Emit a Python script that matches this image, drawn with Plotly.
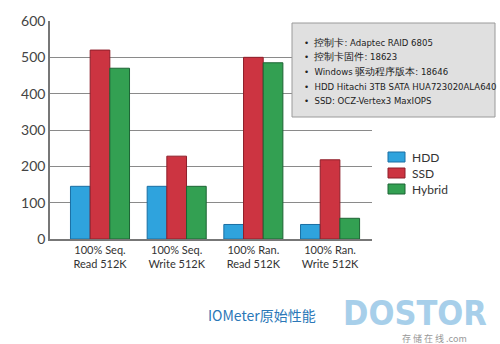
import plotly.graph_objects as go

categories = ["100% Seq.<br>Read 512K", "100% Seq.<br>Write 512K",
              "100% Ran.<br>Read 512K", "100% Ran.<br>Write 512K"]
series_names = ["HDD", "SSD", "Hybrid"]
hdd = [145, 145, 40, 40]
ssd = [520, 228, 500, 218]
hybrid = [470, 145, 485, 57]
y_ticks = [0, 100, 200, 300, 400, 500, 600]
info_lines = ["控制卡: Adaptec RAID 6805", "控制卡固件: 18623",
              "Windows 驱动程序版本: 18646", "HDD Hitachi 3TB SATA HUA723020ALA640",
              "SSD: OCZ-Vertex3 MaxIOPS"]
title_text = "IOMeter原始性能"

L, R, T, B = 50, 372, 21, 239  # plot area in pixels
W, H = R - L, B - T


def px(x):
    return (x - L) / W


def py(y):
    return (B - y) / H


colors = ["#2fa3dd", "#cc3441", "#33a052"]
edges = ["#1a6fa3", "#8e1f2a", "#1d6434"]

fig = go.Figure()
for name, vals, col, edge in zip(series_names, [hdd, ssd, hybrid], colors, edges):
    fig.add_trace(go.Bar(name=name, x=categories, y=vals, showlegend=False,
                         marker=dict(color=col, line=dict(color=edge, width=1))))

fig.update_layout(
    width=500, height=344, autosize=False,
    margin=dict(l=L, r=500 - R, t=T, b=344 - B),
    paper_bgcolor="white", plot_bgcolor="white",
    barmode="group", bargap=0.23, bargroupgap=0.0,
    font=dict(family="Lato, Open Sans, sans-serif", color="#333"),
    showlegend=False,
    xaxis=dict(range=[-0.652, 3.547], showline=True, linecolor="#777", linewidth=1.5,
               tickfont=dict(size=11, color="#333"), ticks=""),
    yaxis=dict(range=[0, 600], tickvals=y_ticks, showline=True, linecolor="#777",
               linewidth=1.5, showgrid=True, gridcolor="#8a8a8a", gridwidth=1.2,
               tickfont=dict(size=14, color="#444"), ticks="", zeroline=False),
)

# legend (drawn manually for exact spacing)
leg_y = [157, 173, 189]
for name, col, edge, yy in zip(series_names, colors, edges, leg_y):
    fig.add_shape(type="rect", xref="paper", yref="paper",
                  x0=px(388), x1=px(405), y0=py(yy + 5), y1=py(yy - 5),
                  fillcolor=col, line=dict(color=edge, width=1))
    fig.add_annotation(xref="paper", yref="paper", x=px(410), y=py(yy),
                       xanchor="left", yanchor="middle", text=name, showarrow=False,
                       font=dict(family="Lato, Open Sans, sans-serif", size=12,
                                 color="#333"))

# info box
fig.add_shape(type="rect", xref="paper", yref="paper",
              x0=px(292), x1=px(495), y0=py(117), y1=py(23),
              fillcolor="#e0e0e0", line=dict(color="#9a9a9a", width=1), layer="above")
line_y = [42, 56, 71, 86, 100]
for s, yy in zip(info_lines, line_y):
    fig.add_annotation(
        xref="paper", yref="paper", x=px(302), y=py(yy), xanchor="left", yanchor="middle",
        text="•  " + s, showarrow=False, align="left",
        font=dict(family="DejaVu Sans Condensed, Liberation Sans, Arial, sans-serif",
                  size=9.5, color="#222"))

fig.add_annotation(
    xref="paper", yref="paper", x=px(415), y=py(313), xanchor="center", yanchor="middle",
    text="<b>DOSTOR</b>", showarrow=False,
    font=dict(family="DejaVu Sans Condensed, Liberation Sans, sans-serif", size=34,
              color="#a7cfea"))
fig.add_annotation(
    xref="paper", yref="paper", x=px(434), y=py(338), xanchor="center", yanchor="middle",
    text="存 储 在 线 .com", showarrow=False,
    font=dict(family="Noto Sans CJK SC, sans-serif", size=9, color="#999"))

fig.add_annotation(
    xref="paper", yref="paper", x=px(262), y=py(315), xanchor="center", yanchor="middle",
    text=title_text, showarrow=False,
    font=dict(family="Noto Sans CJK SC, sans-serif", size=14, color="#2b78b8"))

fig.write_html("out.html")
